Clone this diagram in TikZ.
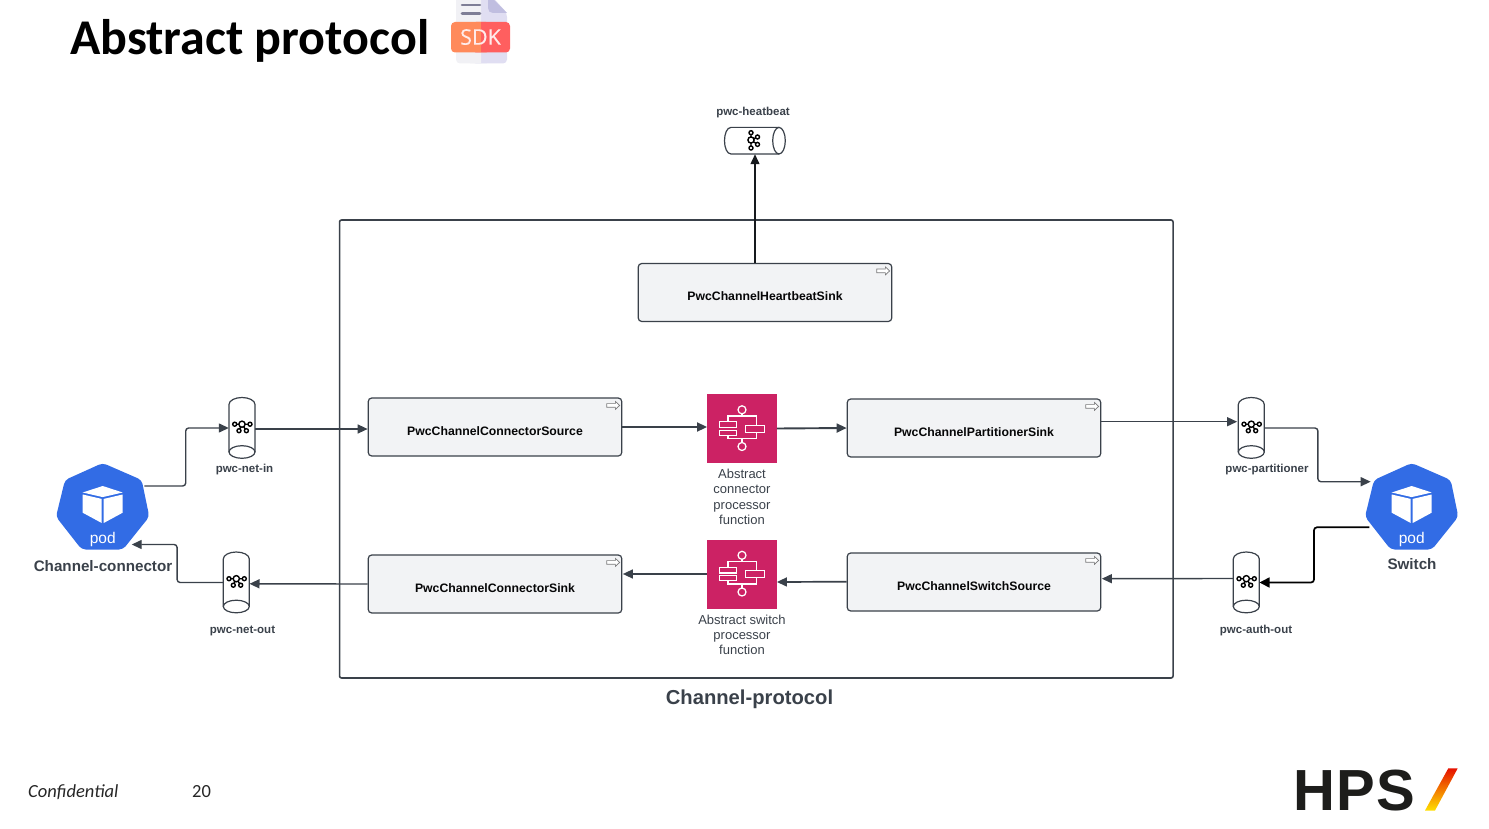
\documentclass[tikz,border=0pt]{standalone}
\usepackage{fontspec}
\usetikzlibrary{arrows.meta,shadings}
\setmainfont{Liberation Sans}
\newfontfamily\carlitof{Carlito}
\definecolor{ink}{HTML}{3A414A}
\definecolor{boxfill}{HTML}{F2F3F5}
\definecolor{podblue}{HTML}{326CE5}
\definecolor{pink}{HTML}{CC2264}
\definecolor{docleft}{HTML}{F1F1F5}
\definecolor{docright}{HTML}{E0DEF2}
\definecolor{docfold}{HTML}{C0BEE0}
\definecolor{docline}{HTML}{7E7E96}
\definecolor{sdkorange}{HTML}{FF8A5B}
\definecolor{sdkred}{HTML}{FF5F5F}
\definecolor{hpsblack}{HTML}{1D1D1B}
\newcommand{\px}[1]{\fontsize{#1}{#1}\selectfont}
\tikzset{
  conn/.style={draw=ink,line width=1.4pt,rounded corners=3pt,-{Triangle[length=10pt,width=9pt]}},
  connthick/.style={conn,line width=1.9pt},
  connblack/.style={conn,draw=black,line width=1.7pt,-{Triangle[length=10pt,width=10pt]}},
  funcbox/.style={draw=ink,fill=boxfill,line width=1.2pt,rounded corners=3.5pt,inner sep=0pt,
    minimum width=253.5pt,text height=37.5pt,text depth=20.5pt,font=\bfseries\px{12.25},text=black!90!ink},
  topiclabel/.style={font=\bfseries\px{11.5},text=ink,inner sep=0pt},
  funclabel/.style={font=\fontsize{13}{15.3}\selectfont,text=ink,align=center,inner sep=0pt,anchor=north},
  iconline/.style={draw=black,line width=1.4pt},
  whiteline/.style={draw=white,line width=1.25pt},
}
% vertical topic
\newcommand{\topicv}[3]{%
  \node[inner sep=0pt,minimum width=26pt,minimum height=60.5pt] (#1) at (#2,#3) {};
  \begin{scope}[shift={(#2,#3)}]
    \draw[ink,line width=1.2pt,fill=white] (-13,24) -- (-13,-23.5) .. controls (-13,-27.5) and (-7,-30.5) .. (0,-30.5) .. controls (7,-30.5) and (13,-27.5) .. (13,-23.5) -- (13,24);
    \draw[ink,line width=1.2pt,fill=white] (0,24) ellipse[x radius=13,y radius=6.3];
    \begin{scope}[shift={(0,-3.8)}]
      \draw[iconline] (-6,0) -- (6,0) (0,0) -- (-3,6.5) (0,0) -- (4.4,6.5);
      \draw[iconline,fill=white] (0,0) circle[radius=3.1] (-7.3,0) circle[radius=2] (8,0) circle[radius=2] (-3,6.5) circle[radius=2] (4.4,6.5) circle[radius=2];
    \end{scope}
  \end{scope}}
% horizontal topic
\newcommand{\topich}[3]{%
  \node[inner sep=0pt,minimum width=61pt,minimum height=26.7pt] (#1) at (#2,#3) {};
  \begin{scope}[shift={(#2,#3)}]
    \draw[ink,line width=1.2pt,fill=white] (24,-13.3) -- (-24,-13.3) .. controls (-28,-13.3) and (-30.5,-7) .. (-30.5,0) .. controls (-30.5,7) and (-28,13.3) .. (-24,13.3) -- (24,13.3);
    \draw[ink,line width=1.2pt,fill=white] (24,0) ellipse[x radius=6.3,y radius=13.3];
    \begin{scope}[shift={(-4,-.7)}]
      \draw[iconline] (0,-6) -- (0,6) (0,0) -- (6.5,-3) (0,0) -- (6.5,4.4);
      \draw[iconline,fill=white] (0,0) circle[radius=3.1] (0,-7.3) circle[radius=2] (0,8) circle[radius=2] (6.5,-3) circle[radius=2] (6.5,4.4) circle[radius=2];
    \end{scope}
  \end{scope}}
% pod
\newcommand{\podicon}[3]{%
  \node[inner sep=0pt,minimum width=94pt,minimum height=87pt] (#1) at (#2,#3) {};
  \begin{scope}[shift={(#2,#3)}]
    \fill[podblue,rounded corners=4pt] (0,-43.5) -- (39,-26.5) -- (46.6,10.2) -- (20.3,43) -- (-21,43) -- (-46.7,10.2) -- (-37.7,-26.5) -- cycle;
    \fill[white] (0,-20.5) -- (20,-14) -- (0,-9.4) -- (-20,-14) -- cycle;
    \fill[white] (-20,-12) -- (-1,-7.6) -- (-1,16.5) -- (-20,6.2) -- cycle;
    \fill[white] (20,-12) -- (1,-7.6) -- (1,16.5) -- (20,6.2) -- cycle;
    \node[font=\px{15.5},text=white,inner sep=0pt] (#1text) at (0,32.5) {pod};
  \end{scope}}
% small arrow at a function box corner
\newcommand{\cornerarrow}[1]{%
  \begin{scope}[shift={(#1.north east)}]
    \draw[gray!90!ink,line width=.7pt,fill=white] (-15.7,6.2) -- (-7,6.2) -- (-7,4) -- (-2.7,8) -- (-7,12) -- (-7,9.8) -- (-15.7,9.8) -- cycle;
  \end{scope}}
% pink step function icon
\newcommand{\stepicon}[3]{%
  \node[fill=pink,inner sep=0pt,minimum width=69.5pt,minimum height=69pt] (#1) at (#2,#3) {};
  \begin{scope}[shift={(#2,#3)}]
    \draw[whiteline] (0,-18.7) circle[radius=4] (0,18) circle[radius=4];
    \draw[whiteline] (0,-14.7) -- (0,-12.5) (0,10) -- (0,14);
    \draw[whiteline] (-14,-6.5) -- (-14,-12.5) -- (14.5,-12.5) -- (14.5,-3.3);
    \draw[whiteline] (14.5,3.7) -- (14.5,10) -- (-14,10) -- (-14,6.7);
    \draw[whiteline] (-22.3,-6.7) rectangle (-5.5,-1);
    \draw[whiteline] (-22.3,1.7) rectangle (-5.5,6.7);
    \draw[whiteline] (3.3,-3.3) rectangle (22.7,3.7);
  \end{scope}}
\begin{document}
\begin{tikzpicture}[x=1pt,y=-1pt]
\path[use as bounding box] (0,0) rectangle (1489,829);
% title
\node[anchor=base west,inner sep=0pt,font=\carlitof\bfseries\px{50}] (title) at (70,55) {Abstract protocol};
% SDK icon
\fill[docleft,rounded corners=4pt] (456,-8) rectangle (490,63.5);
\fill[docright,rounded corners=4pt] (472,-8) -- (488,-8) -- (507,13) -- (507,63.5) -- (472,63.5) -- cycle;
\fill[docleft] (456,-8) rectangle (481,30) (470,30) rectangle (481,63.5);
\fill[docfold] (488,0) -- (488,8) .. controls (488,11) and (490,13) .. (493,13) -- (507,13) -- (494,0) -- cycle;
\draw[docline,line width=2.6pt,line cap=round] (462,5) -- (480,5) (462,13.5) -- (480,13.5);
\fill[sdkorange,rounded corners=4pt] (451,22) rectangle (490,52.5);
\fill[sdkred,rounded corners=4pt] (472,22) rectangle (510,52.5);
\fill[sdkorange] (470,22) rectangle (481,52.5);
\node[font=\px{21.5},text=white!92!red,inner sep=0pt] (sdk) at (480.5,37) {\fontspec{Open Sans}[FakeBold=0.25]SDK};
% container
\node[draw=ink,line width=1.6pt,rounded corners=2pt,inner sep=0pt,minimum width=833.5pt,minimum height=458pt] (protocol) at (756.3,449) {};
\node[font=\bfseries\px{20.2},text=ink,inner sep=0pt] (protocollabel) at (749.5,699.5) {Channel-protocol};
% function boxes
\node[funcbox] (hb) at (765,292.5) {PwcChannelHeartbeatSink};
\node[funcbox] (csrc) at (495,427) {PwcChannelConnectorSource};
\node[funcbox] (csink) at (495,584) {PwcChannelConnectorSink};
\node[funcbox] (psink) at (974,428) {PwcChannelPartitionerSink};
\node[funcbox] (ssrc) at (974,582) {PwcChannelSwitchSource};
\cornerarrow{hb}\cornerarrow{csrc}\cornerarrow{csink}\cornerarrow{psink}\cornerarrow{ssrc}
% processors
\stepicon{conproc}{742}{428.5}
\stepicon{swproc}{742}{574}
\node[funclabel] (conlabel) at (742,469) {Abstract\\connector\\processor\\function};
\node[funclabel] (swlabel) at (742,614.5) {Abstract switch\\processor\\function};
% topics
\topicv{netin}{242}{428}
\topicv{netout}{236.3}{582.5}
\topicv{part}{1251.3}{428}
\topicv{auth}{1246.3}{582.5}
\topich{heart}{755}{140.7}
\node[topiclabel] (netinl) at (244.5,469.5) {pwc-net-in};
\node[topiclabel] (netoutl) at (242.5,631) {pwc-net-out};
\node[topiclabel] (partl) at (1267,469.5) {pwc-partitioner};
\node[topiclabel] (authl) at (1256,631) {pwc-auth-out};
\node[topiclabel] (heartl) at (753,112.5) {pwc-heatbeat};
% pods
\podicon{podc}{102.7}{506.5}
\podicon{pods}{1411.7}{506.5}
\node[font=\bfseries\px{15.2},text=ink,inner sep=0pt] (podcl) at (103,566.5) {Channel-connector};
\node[font=\bfseries\px{15.2},text=ink,inner sep=0pt] (podsl) at (1412,564.5) {Switch};
% connectors
\draw[conn] ([shift={(41.6,-20.5)}]podc.center) -- ++(41.4,0) |- (netin.west);
\draw[conn] ([shift={(0,1)}]netin.east) -- ([shift={(0,2)}]csrc.west);
\draw[conn] (csink.west) -- ([shift={(0,1.3)}]netout.east);
\draw[conn] (netout.west) -- ++(-46,0) |- ([shift={(29,38)}]podc.center);
\draw[connthick] (csrc.east) -- (conproc.west |- csrc.east);
\draw[connthick] (conproc.east) -- (psink.west);
\draw[conn] ([shift={(0,-6.3)}]psink.east) -- ([shift={(-1,-6.3)}]part.west);
\draw[conn] (part.east) -- ++(53.4,0) |- ([shift={(-41,-24.8)}]pods.center);
\draw[connblack] ([shift={(-42.4,20.8)}]pods.center) -- ++(-55.3,0) |- (auth.east);
\draw[conn] ([shift={(0,-4)}]auth.west) -- ([shift={(.5,-3.3)}]ssrc.east);
\draw[connthick,line width=1.7pt] ([shift={(0,-.3)}]ssrc.west) -- (swproc.east |- ssrc.west);
\draw[conn] (swproc.west) -- ([shift={(.5,-10)}]csink.east);
\draw[conn,draw=ink!40!black] (hb.north -| heart.south) -- (heart.south);
% footer
\node[anchor=base west,inner sep=0pt,font=\carlitof\itshape\px{18.5},text=black!85] (conf) at (28,797) {Confidential};
\node[anchor=base west,inner sep=0pt,font=\carlitof\px{18.5},text=black!85] (page) at (192,797) {20};
\node[anchor=base west,inner sep=0pt,font=\bfseries\px{58},text=hpsblack] (hps) at (1293,810) {\addfontfeature{LetterSpace=2.6}HPS};
\shade[top color=red!85!orange!90!black,bottom color=yellow!75!orange] (1448.3,768.3) -- (1457.7,768.3) -- (1435,810.5) -- (1425,810.5) -- cycle;
\end{tikzpicture}
\end{document}
